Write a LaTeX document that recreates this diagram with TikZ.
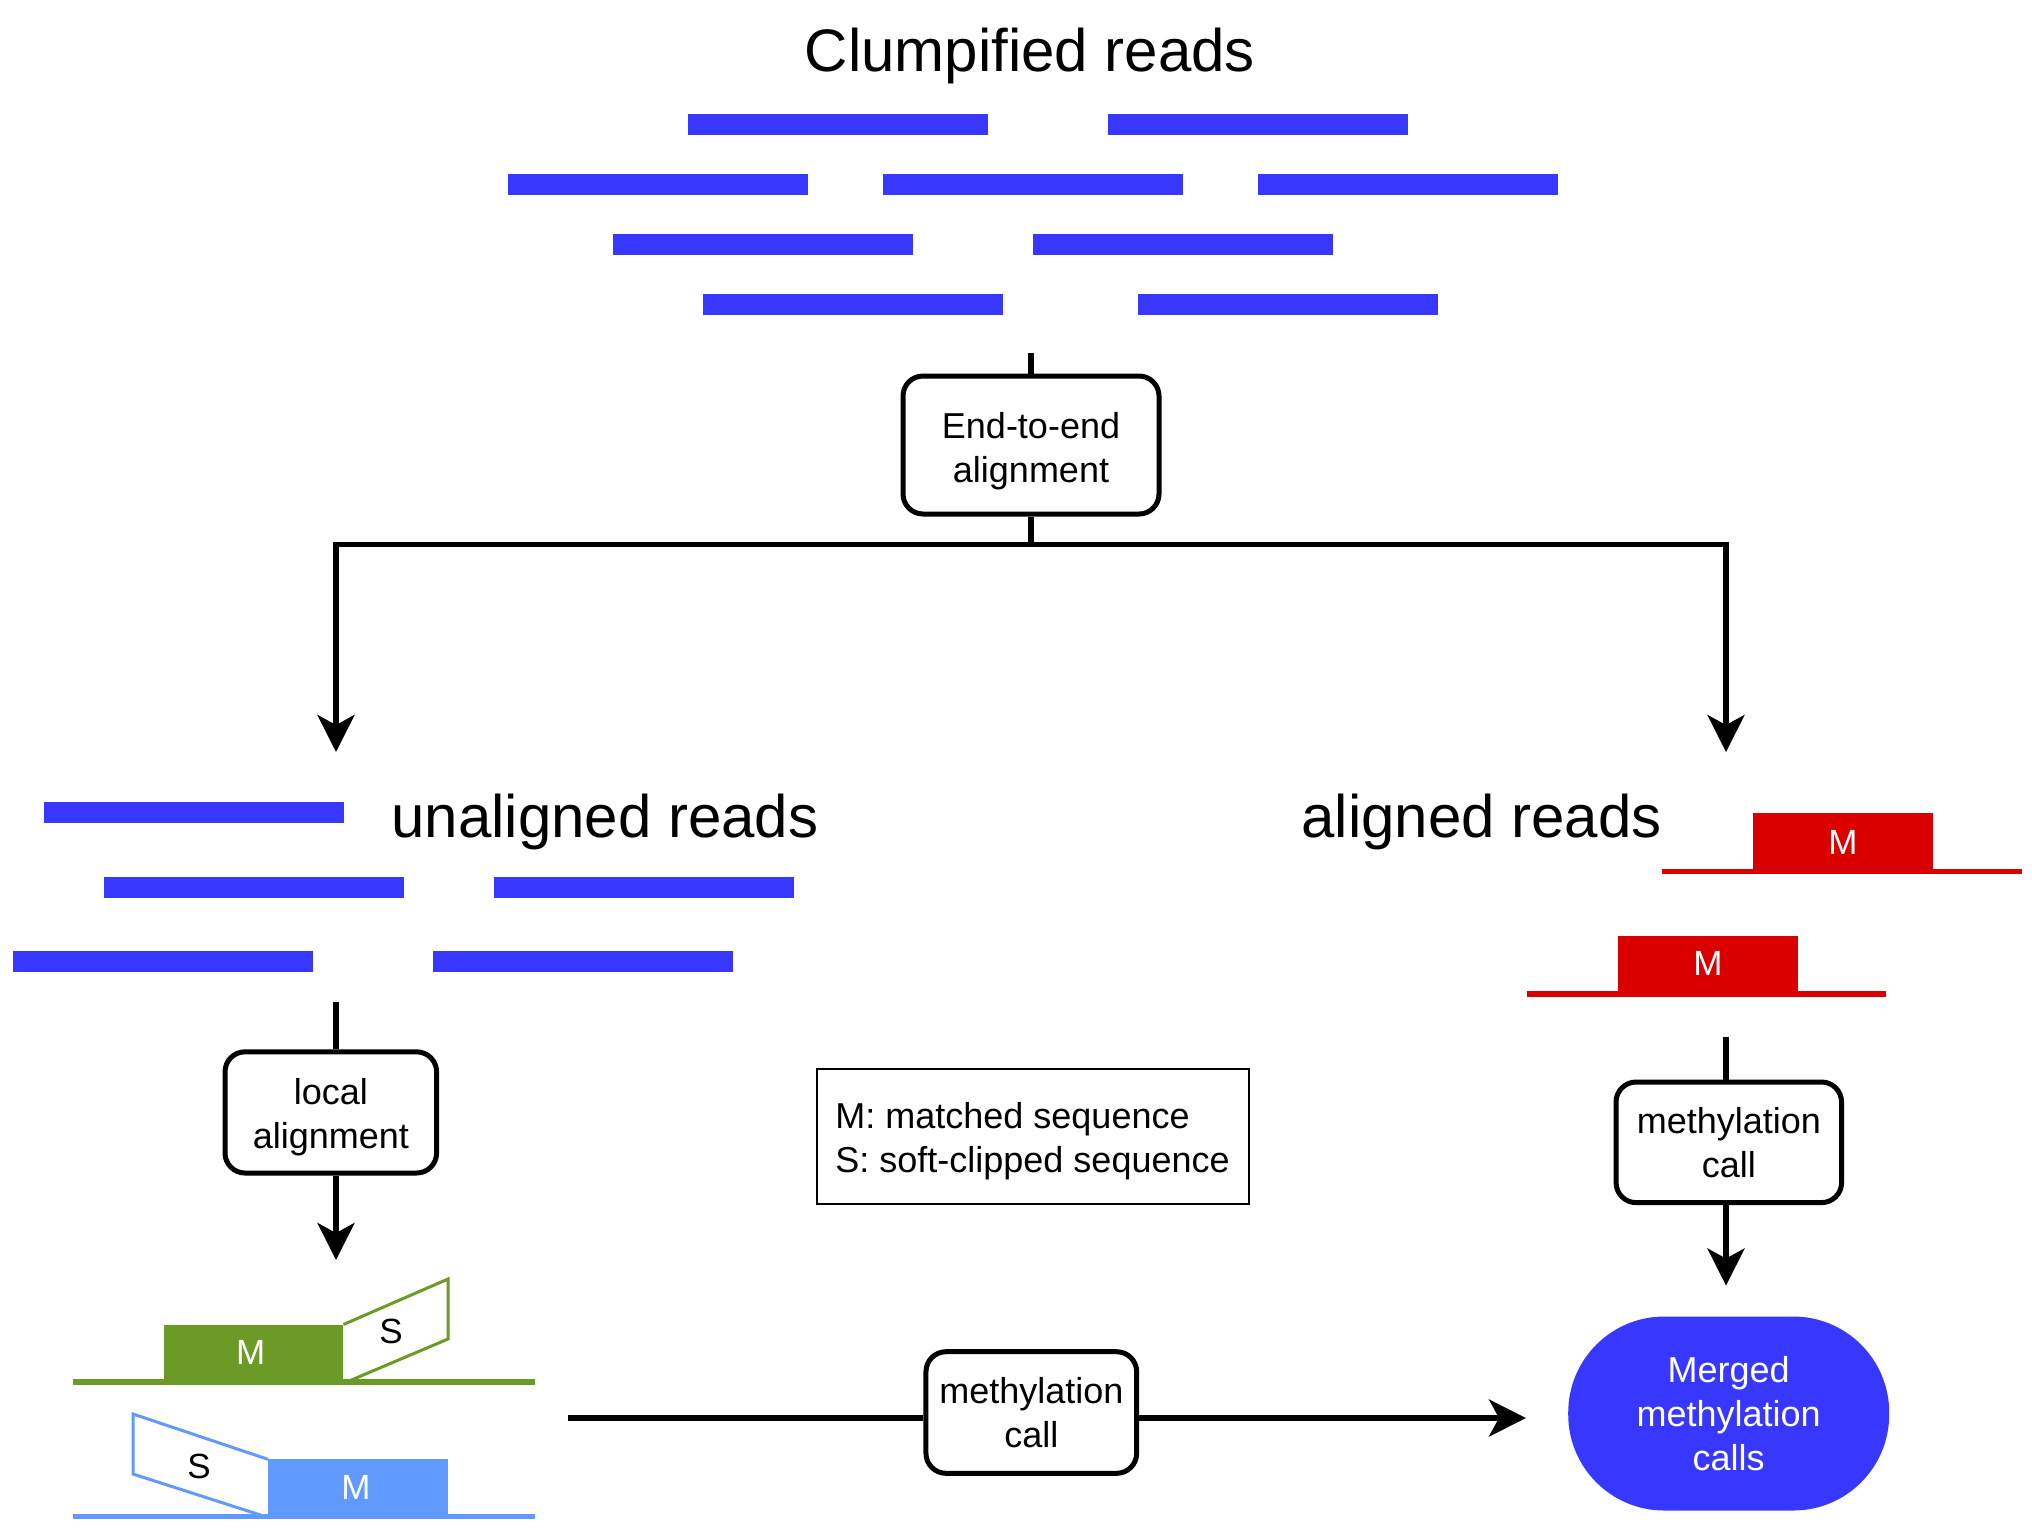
\documentclass[tikz,border=0pt]{standalone}
\usepackage{fontspec}
\setmainfont{Liberation Sans}
\usetikzlibrary{arrows.meta}
\definecolor{readblue}{HTML}{3737FF}
\definecolor{mgreen}{HTML}{6B9A27}
\definecolor{lblue}{HTML}{609AFF}
\definecolor{mred}{HTML}{DB0000}
\begin{document}
\begin{tikzpicture}[x=0.5pt,y=-0.5pt,
  procbox/.style={draw, line width=2.5pt, rounded corners=10pt, align=center,
    font=\fontsize{18}{22}\selectfont, inner sep=0pt, fill=white},
  boxtext/.style={align=center, font=\fontsize{18}{22}\selectfont, inner sep=0pt},
  conn/.style={line width=2.6pt},
  flow/.style={line width=2.6pt, -{Stealth[length=18.5pt,width=18.5pt,inset=5pt]}},
  titletext/.style={font=\fontsize{30}{36}\selectfont, inner sep=0pt},
  seglabel/.style={font=\fontsize{17.5}{20}\selectfont, inner sep=0pt},
  legtext/.style={font=\fontsize{18}{22}\selectfont, inner sep=0pt, anchor=base west},
  refline/.style={line width=2.8pt},
  clipline/.style={line width=1.5pt, line join=miter}
]
\useasboundingbox (0,0) rectangle (2032,1538);

% ---------- title and clumpified reads ----------
\node[titletext, anchor=base] (title) at (1030,71) {Clumpified reads};
\foreach \x/\y in {688/124.4,1108/124.4,
                   508/184.5,883/184.5,1258/184.5,
                   613/244,1033/244,
                   703/304.5,1138/304.5}
  \fill[readblue] (\x,\y-10.5) rectangle ++(300,21);

% ---------- end-to-end alignment ----------
\coordinate (topstart) at (1031,352.5);
\node[procbox, minimum width=128pt, minimum height=69pt] (e2e) at (1031,445) {};
\node[boxtext] (e2etext) at (1031,451.5) {End-to-end\\alignment};
\draw[conn] (topstart) -- (e2e.north);
\coordinate (split) at (1031,544.5);
\coordinate (ltip) at (336,752);
\coordinate (rtip) at (1726,752);
\draw[conn] (e2e.south) -- (split);
\draw[flow] (split) -| (ltip);
\draw[flow] (split) -| (rtip);

% ---------- unaligned reads ----------
\node[titletext, anchor=base west] (unal) at (391,837) {unaligned reads};
\foreach \x/\y in {44/812.5, 104/887.7, 494/887.7, 13/961.6, 433/961.6}
  \fill[readblue] (\x,\y-10.5) rectangle ++(300,21);

% ---------- aligned reads ----------
\node[titletext, anchor=base west] (al) at (1301,837) {aligned reads};
\draw[refline, mred] (1661.5,871.5) -- (2021.5,871.5);
\fill[mred] (1753,813) rectangle (1932.6,871.5);
\node[seglabel, text=white] (m1) at (1842.8,842) {M};
\draw[refline, mred] (1526.5,994) -- (1886,994);
\fill[mred] (1618,935.5) rectangle (1797.6,994);
\node[seglabel, text=white] (m2) at (1707.8,963.5) {M};

% ---------- local alignment ----------
\coordinate (lstart) at (336,1002);
\node[procbox, minimum width=105.8pt, minimum height=60.6pt] (loc) at (330.8,1112.4) {};
\node[boxtext] (loctext) at (330.8,1117) {local\\alignment};
\coordinate (ltip2) at (336,1260);
\draw[conn] (lstart) -- (lstart |- loc.north);
\draw[flow] (lstart |- loc.south) -- (ltip2);

% ---------- soft-clipped reads ----------
\draw[refline, mgreen] (72.6,1382) -- (535,1382);
\fill[mgreen] (163.5,1324.5) rectangle (343.4,1382);
\draw[clipline, mgreen, fill=white] (343.4,1324.5) -- (448,1279) -- (448,1339) -- (350,1380.6);
\node[seglabel, text=white] (gm) at (250.7,1352) {M};
\node[seglabel] (gs) at (391,1331) {S};

\draw[refline, lblue] (72.6,1516.5) -- (535,1516.5);
\fill[lblue] (268,1459.3) rectangle (448,1516.5);
\draw[clipline, lblue, fill=white] (268,1459.3) -- (133,1414) -- (133,1474) -- (262,1515.5);
\node[seglabel] (bs) at (199,1466) {S};
\node[seglabel, text=white] (bm2) at (356,1487) {M};

% ---------- legend ----------
\node[draw, line width=1pt, minimum width=216pt, minimum height=67.5pt, inner sep=0pt]
  (legend) at (1033,1136.5) {};
\node[legtext] (leg1) at (835,1128) {M: matched sequence};
\node[legtext] (leg2) at (835,1172) {S: soft-clipped sequence};

% ---------- right methylation call ----------
\coordinate (rstart) at (1726,1036.7);
\node[procbox, minimum width=112.75pt, minimum height=60.3pt] (rm) at (1728.8,1142.3)
  {methylation\\call};
\coordinate (rtip2) at (1726,1285.5);
\draw[conn] (rstart) -- (rstart |- rm.north);
\draw[flow] (rstart |- rm.south) -- (rtip2);

% ---------- merged ----------
\node[fill=readblue, rounded corners=48pt, minimum width=160.5pt, minimum height=97pt,
  inner sep=0pt, align=center, text=white, font=\fontsize{18}{22}\selectfont]
  (merged) at (1728.7,1413.5) {Merged\\methylation\\calls};

% ---------- bottom methylation call ----------
\coordinate (bstart) at (567.6,1418);
\node[procbox, minimum width=105.35pt, minimum height=60.8pt] (bm) at (1031.3,1412.5)
  {methylation\\call};
\coordinate (btip) at (1526,1418);
\draw[conn] (bstart) -- (bstart -| bm.west);
\draw[flow] (bstart -| bm.east) -- (btip);
\end{tikzpicture}
\end{document}
